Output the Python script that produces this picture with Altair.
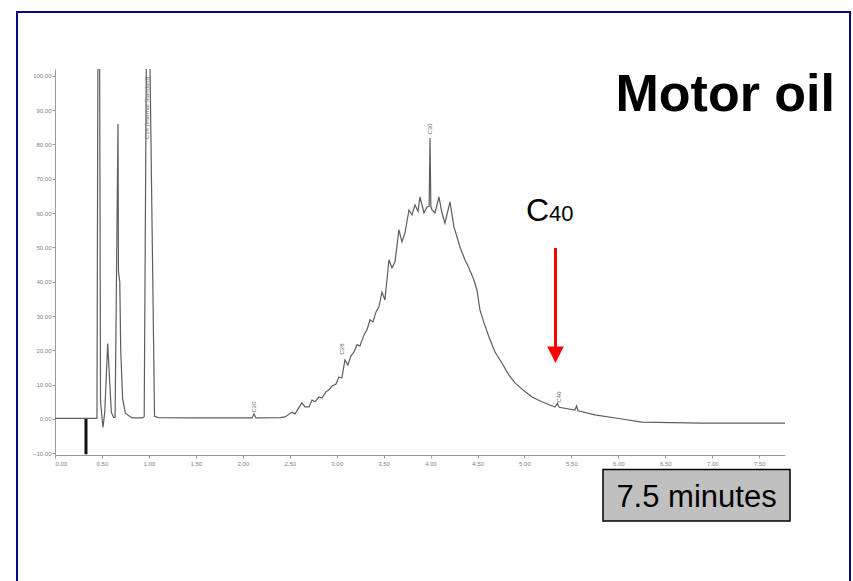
import altair as alt
import pandas as pd

# ---- chromatogram trace (time in minutes, response) ----
trace_time = [0.00, 0.330, 0.447, 0.466, 0.485, 0.511, 0.530, 0.561, 0.600, 0.625,
              0.640, 0.671, 0.676, 0.690, 0.700, 0.720, 0.749, 0.820, 0.930, 0.950,
              0.985, 1.060, 1.100, 1.500, 2.100, 2.120, 2.140, 2.400,
              2.450, 2.524, 2.556, 2.630, 2.662, 2.705, 2.737, 2.769, 2.811, 2.843,
              2.886, 2.918, 2.950, 2.993, 3.024, 3.056, 3.088, 3.120, 3.152, 3.184,
              3.216, 3.248, 3.291, 3.323, 3.355, 3.387, 3.419, 3.450, 3.482, 3.514,
              3.557, 3.589, 3.621, 3.663, 3.695, 3.727, 3.770, 3.802, 3.834, 3.866,
              3.887, 3.930, 3.962, 3.985, 3.994, 4.003, 4.015, 4.047, 4.089, 4.121,
              4.153, 4.207, 4.249, 4.281, 4.313, 4.366, 4.409, 4.462, 4.494, 4.526,
              4.569, 4.622, 4.686, 4.760, 4.835, 4.899, 4.995, 5.080, 5.186, 5.325,
              5.350, 5.370, 5.538, 5.555, 5.570, 5.751, 6.038, 6.251, 6.890, 7.796]
trace_value = [0.2, 0.2, 0.2, 200.0, 5.0, -2.5, 2.0, 22.0, 2.0, 0.4,
               0.5, 86.0, 43.0, 40.0, 20.0, 6.0, 1.7, 0.3, 0.3, 0.6,
               160.0, 0.8, 0.4, 0.3, 0.3, 1.5, 0.3, 0.4,
               0.6, 2.0, 1.5, 4.7, 3.5, 3.5, 5.5, 5.0, 6.4, 6.1,
               7.9, 8.5, 9.6, 10.2, 12.2, 12.0, 17.2, 15.7, 18.4, 19.5,
               21.6, 21.3, 24.5, 26.0, 28.9, 28.3, 31.2, 32.7, 37.0, 34.7,
               46.4, 44.0, 45.8, 55.1, 51.6, 54.2, 60.9, 59.5, 62.4, 60.5,
               64.7, 60.1, 61.8, 62.0, 81.9, 62.0, 60.9, 60.1, 64.7, 60.1,
               57.1, 63.3, 56.0, 53.1, 50.1, 46.4, 44.0, 40.5, 37.6, 31.8,
               28.0, 23.9, 19.5, 16.3, 12.8, 10.5, 8.2, 6.4, 5.0, 3.5,
               4.6, 3.4, 2.6, 3.8, 2.4, 1.2, 0.0, -0.9, -1.2, -1.2]

# injection marker bar
marker_time = [0.33]
marker_low = [-10.3]
marker_high = [0.0]

# small peak labels printed on the chromatogram
peak_label_text = ["C18 (Internal Standard)", "C20", "C28", "C30", "C40"]
peak_label_time = [0.98, 2.12, 3.06, 3.99, 5.37]
peak_label_value = [90.7, 3.5, 20.4, 84.5, 6.4]

x_ticks = [0.0, 0.5, 1.0, 1.5, 2.0, 2.5, 3.0, 3.5, 4.0, 4.5, 5.0, 5.5, 6.0, 6.5, 7.0, 7.5]
y_ticks = [-10, 0, 10, 20, 30, 40, 50, 60, 70, 80, 90, 100]

title_text = ["Motor oil"]
c_text = ["C"]
c_sub_text = ["40"]
box_text = ["7.5 minutes"]

W, H = 730, 386
X_DOMAIN = [0.0, 7.775]
Y_DOMAIN = [-10.5, 102.0]

trace_df = pd.DataFrame({"time": trace_time, "value": trace_value})
marker_df = pd.DataFrame({"time": marker_time, "low": marker_low, "high": marker_high})
label_df = pd.DataFrame({"text": peak_label_text, "time": peak_label_time, "value": peak_label_value})

xs = alt.Scale(domain=X_DOMAIN, nice=False, zero=False)
ys = alt.Scale(domain=Y_DOMAIN, nice=False, zero=False)

x_axis = alt.Axis(values=x_ticks, format=".2f", title=None, grid=False,
                  labelFontSize=6, labelColor="#808080", domainColor="#9a9a9a",
                  tickColor="#9a9a9a", tickSize=3, labelFont="Liberation Sans",
                  labelOverlap=False)
y_axis = alt.Axis(values=y_ticks, format=".2f", title=None, grid=False,
                  labelFontSize=6, labelColor="#808080", domainColor="#9a9a9a",
                  tickColor="#9a9a9a", tickSize=3, labelPadding=1,
                  labelFont="Liberation Sans", labelOverlap=False)

trace = alt.Chart(trace_df).mark_line(color="#5e5e5e", strokeWidth=1.2, clip=True).encode(
    x=alt.X("time:Q", scale=xs, axis=x_axis),
    y=alt.Y("value:Q", scale=ys, axis=y_axis),
    order="time:Q",
)

marker = alt.Chart(marker_df).mark_rule(color="#111111", strokeWidth=3).encode(
    x=alt.X("time:Q", scale=xs, axis=x_axis),
    y=alt.Y("low:Q", scale=ys, axis=y_axis),
    y2="high:Q",
)

peak_labels = alt.Chart(label_df).mark_text(angle=270, fontSize=6, color="#6a6a6a",
                                             font="Liberation Sans").encode(
    x=alt.X("time:Q", scale=xs, axis=x_axis),
    y=alt.Y("value:Q", scale=ys, axis=y_axis),
    text="text:N",
)

one = pd.DataFrame({"k": [0]})

border = alt.Chart(one).mark_rect(fill="transparent", stroke="#0a0a78", strokeWidth=2).encode(
    x=alt.value(-38), x2=alt.value(795), y=alt.value(-57), y2=alt.value(560))

title = alt.Chart(pd.DataFrame({"t": title_text})).mark_text(
    font="Liberation Sans", fontWeight="bold", fontSize=52, color="black",
    align="right", baseline="alphabetic").encode(
    x=alt.value(780), y=alt.value(42), text="t:N")

c_main = alt.Chart(pd.DataFrame({"t": c_text})).mark_text(
    font="Liberation Sans", fontSize=32, color="black",
    align="left", baseline="alphabetic").encode(
    x=alt.value(471), y=alt.value(152), text="t:N")

c_sub = alt.Chart(pd.DataFrame({"t": c_sub_text})).mark_text(
    font="Liberation Sans", fontSize=22, color="black",
    align="left", baseline="alphabetic").encode(
    x=alt.value(494), y=alt.value(152), text="t:N")

arrow_line = alt.Chart(one).mark_rule(color="#ff0000", strokeWidth=3).encode(
    x=alt.value(500.5), y=alt.value(179), y2=alt.value(280))

arrow_head = alt.Chart(one).mark_point(shape="M-1,-1L1,-1L0,1Z", size=275,
                                       filled=True, color="#ff0000", opacity=1).encode(
    x=alt.value(500.5), y=alt.value(285.7))

box = alt.Chart(one).mark_rect(fill="#c0c0c0", stroke="black", strokeWidth=1.5).encode(
    x=alt.value(548), x2=alt.value(735), y=alt.value(400.5), y2=alt.value(452))

box_label = alt.Chart(pd.DataFrame({"t": box_text})).mark_text(
    font="Liberation Sans", fontSize=31, color="black",
    align="center", baseline="alphabetic").encode(
    x=alt.value(641.5), y=alt.value(438), text="t:N")

chart = alt.layer(
    border, trace, marker, peak_labels, title, c_main, c_sub,
    arrow_line, arrow_head, box, box_label
).properties(
    width=W, height=H,
    autosize=alt.AutoSizeParams(type="none"),
    padding={"left": 55, "top": 69, "right": 68, "bottom": 126},
    background="white",
).configure_view(stroke=None).configure_axis(labelOverlap=False)

chart.save("out.html", embed_options={"renderer": "svg", "actions": False})
